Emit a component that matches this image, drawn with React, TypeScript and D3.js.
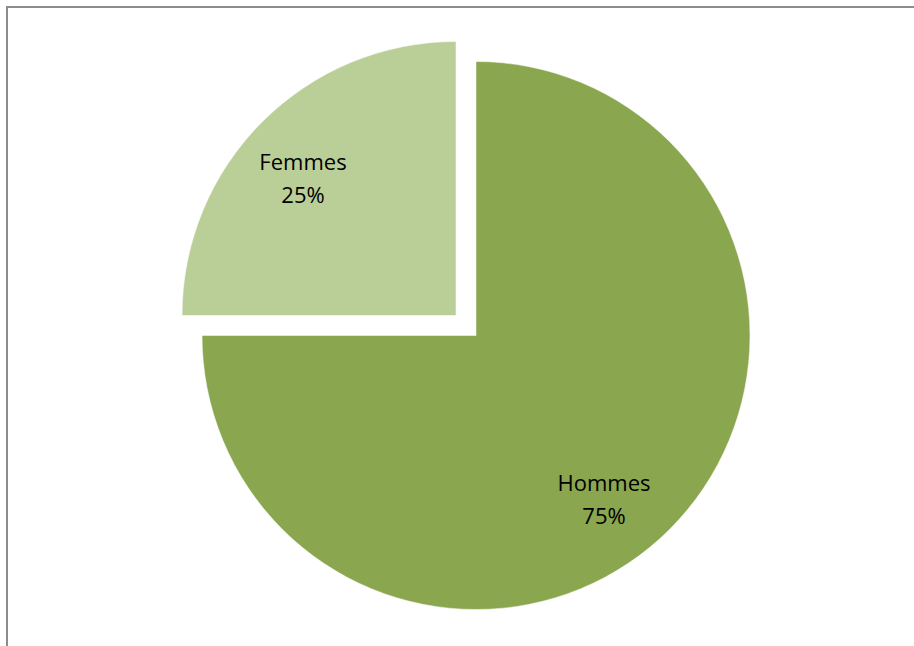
import React from "react";
import * as d3 from "d3";

const categories = ["Hommes", "Femmes"];
const values = [75, 25];
const colors = ["#8aa64e", "#bacf97"];

// layout constants (not data)
const EXPLODE = [0, 20 * Math.SQRT2];
const LABEL_POS: [number, number][] = [
  [128, 155],
  [-153, -146],
];

export default function App() {
  const width = 914;
  const height = 646;
  const cx = 476;
  const cy = 335.5;
  const r = 274;
  const pie = d3.pie<number>().sort(null).startAngle(0).endAngle(2 * Math.PI);
  const arcs = pie(values);
  const arc = d3.arc<d3.PieArcDatum<number>>().innerRadius(0).outerRadius(r);
  return (
    <svg
      width={width}
      height={height}
      style={{ position: "absolute", left: 0, top: 0 }}
    >
      <rect x={0} y={0} width={width} height={height} fill="#fff" />
      <line x1={7} y1={7} x2={914} y2={7} stroke="#8c8c8c" strokeWidth={2} />
      <line x1={7} y1={6} x2={7} y2={646} stroke="#8c8c8c" strokeWidth={2} />
      {arcs.map((a, i) => {
        const mid = (a.startAngle + a.endAngle) / 2;
        const dx = Math.sin(mid) * EXPLODE[i];
        const dy = -Math.cos(mid) * EXPLODE[i];
        const [lx, ly] = LABEL_POS[i];
        return (
          <g key={categories[i]} transform={`translate(${cx + dx},${cy + dy})`}>
            <path d={arc(a) || ""} fill={colors[i]} stroke="#fff" strokeWidth={0.5} />
            <text
              x={lx}
              y={ly}
              textAnchor="middle"
              fontFamily="'Open Sans', 'Liberation Sans', sans-serif"
              fontSize={22}
              fill="#000"
            >
              <tspan x={lx} y={ly}>{categories[i]}</tspan>
              <tspan x={lx} y={ly + 33}>{values[i]}%</tspan>
            </text>
          </g>
        );
      })}
    </svg>
  );
}
